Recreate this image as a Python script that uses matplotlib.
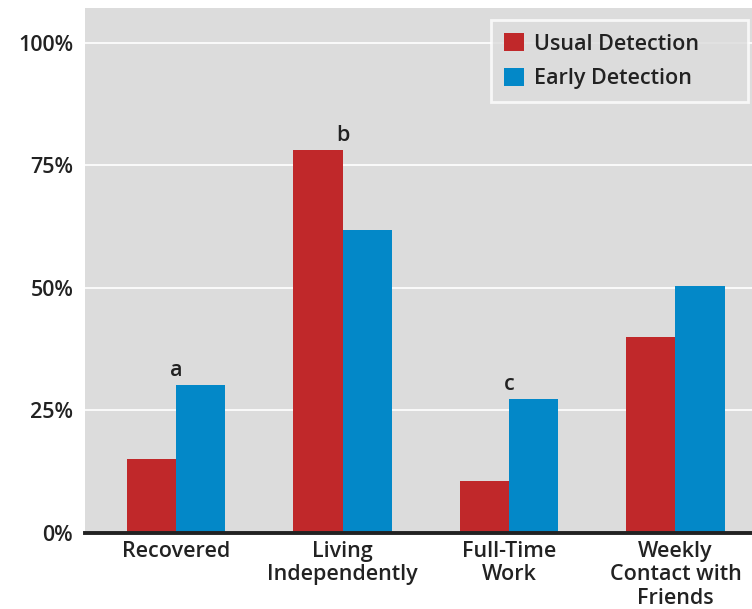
import matplotlib
matplotlib.use("Agg")
import matplotlib.pyplot as plt
import numpy as np

categories = ["Recovered", "Living\nIndependently", "Full-Time\nWork", "Weekly\nContact with\nFriends"]
usual = [15.1, 78.2, 10.6, 40.0]
early = [30.2, 61.8, 27.3, 50.4]
notes = ["a", "b", "c", ""]
yticks = [0, 25, 50, 75, 100]
ytick_labels = ["0%", "25%", "50%", "75%", "100%"]

RED = "#C0282A"
BLUE = "#0388C8"
FONT = "Open Sans"

fig = plt.figure(figsize=(7.52, 6.09), dpi=100)
ax = fig.add_axes([85/752, 1 - 533/609, (752-85)/752, (533-8)/609])
ax.set_facecolor("#DCDCDC")

x = np.arange(len(categories))
w = 0.297
ax.bar(x - w/2, usual, width=w, color=RED, zorder=3, label="Usual Detection")
ax.bar(x + w/2, early, width=w, color=BLUE, zorder=3, label="Early Detection")

for xi, n, u, e in zip(x, notes, usual, early):
    if n:
        ax.text(xi, max(u, e) + 0.8, n, ha="center", va="bottom", fontsize=15.5,
                fontfamily=FONT, fontweight="semibold", color="#222222", zorder=4)

ax.set_xlim(-0.547, 3.46)
ax.set_ylim(0, 107.1)
ax.set_yticks(yticks)
ax.set_yticklabels(ytick_labels)
ax.set_xticks(x)
ax.set_xticklabels(categories, linespacing=1.17)
for lbl in ax.get_xticklabels() + ax.get_yticklabels():
    lbl.set_fontfamily(FONT)
    lbl.set_fontweight("semibold")
    lbl.set_fontsize(15.5)
    lbl.set_color("#222222")
ax.tick_params(axis="both", length=0)
ax.tick_params(axis="y", pad=8.5)
ax.tick_params(axis="x", pad=5.5)
ax.yaxis.grid(True, color="white", linewidth=1.2, zorder=0)
ax.set_axisbelow(True)
for s in ["top", "right", "left"]:
    ax.spines[s].set_visible(False)
ax.spines["bottom"].set_linewidth(2.8)
ax.spines["bottom"].set_color("#222222")
ax.spines["bottom"].set_zorder(5)

leg = ax.legend(loc="upper left",
                bbox_to_anchor=((491-85)/667, (533-95)/525, (748-491)/667, 75/525),
                mode="expand", frameon=True,
                fancybox=False, facecolor="#DCDCDC", edgecolor="white",
                handlelength=0.95, handleheight=0.95, handletextpad=0.47,
                borderpad=0.6, labelspacing=0.6, borderaxespad=0,
                prop={"family": FONT, "weight": "semibold", "size": 15.5})
leg.get_frame().set_linewidth(2)
for t in leg.get_texts():
    t.set_color("#222222")

fig.savefig("out.png", dpi=100)
